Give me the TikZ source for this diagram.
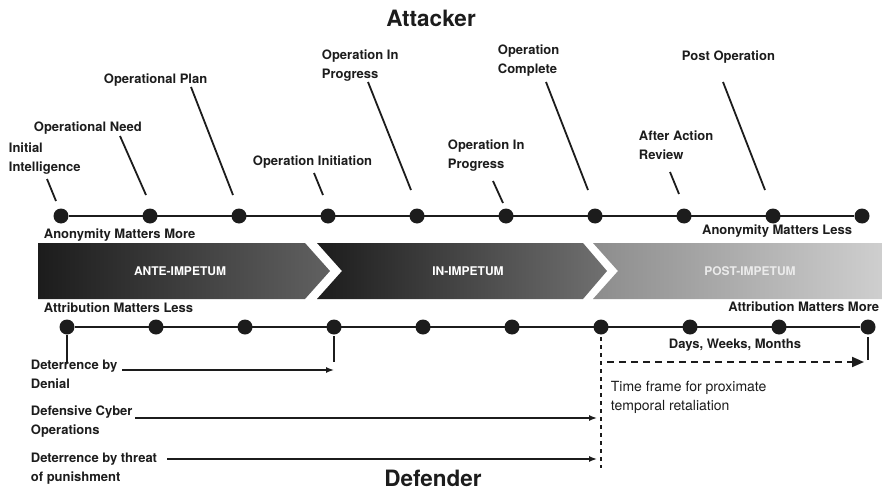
\documentclass[tikz,border=0pt]{standalone}
\usepackage{fontspec}
\setmainfont{TeX Gyre Heros}
\usetikzlibrary{arrows.meta}

\definecolor{ink}{HTML}{1C1C1C}

\tikzset{
  dot/.style={circle, fill=ink, inner sep=0pt, minimum size=15pt},
  lbl/.style={font=\bfseries\fontsize{13}{19}\selectfont, align=left, inner sep=0pt, anchor=north west},
  tag/.style={font=\bfseries\fontsize{13}{15}\selectfont, inner sep=0pt},
  title/.style={font=\bfseries\fontsize{22.5}{27}\selectfont, inner sep=0pt},
  phase/.style={font=\bfseries\fontsize{12}{14}\selectfont, inner sep=0pt},
  tip/.style={-{Latex[length=8pt,width=6pt]}, line width=1.4pt},
}

\begin{document}
\begin{tikzpicture}[x=1pt, y=-1pt, line width=1.8pt, ink]
\useasboundingbox (0,0) rectangle (882,492);

% attacker side
\node[title] (att) at (431,18) {Attacker};
\foreach \i in {1,...,10}
  \node[dot] (t\i) at ({61+89*(\i-1)},216) {};
\draw (t1) -- (t10);

\node[lbl] (ii) at (8,142) {Initial\\Intelligence};
\node[lbl] (on) at (33,121) {Operational Need};
\node[lbl] (op) at (103,73) {Operational Plan};
\node[lbl] (oi) at (252,155) {Operation Initiation};
\node[lbl] (ip1) at (321,49) {Operation In\\Progress};
\node[lbl] (ip2) at (447,139) {Operation In\\Progress};
\node[lbl] (oc) at (497,44) {Operation\\Complete};
\node[lbl] (ar) at (638,130) {After Action\\Review};
\node[lbl] (po) at (681,50) {Post Operation};

\coordinate (l1) at (47,179);  \coordinate (m1) at (56,201);
\coordinate (l2) at (120,136); \coordinate (m2) at (146,195);
\coordinate (l3) at (191,87);  \coordinate (m3) at (233,195);
\coordinate (l4) at (314,173); \coordinate (m4) at (323,195);
\coordinate (l5) at (368,82);  \coordinate (m5) at (411,190);
\coordinate (l6) at (493,181); \coordinate (m6) at (503,203);
\coordinate (l7) at (546,82);  \coordinate (m7) at (588,190);
\coordinate (l8) at (670,172); \coordinate (m8) at (679,194);
\coordinate (l9) at (723,82);  \coordinate (m9) at (765,190);
\foreach \i in {1,...,9}
  \draw (l\i) -- (m\i);

\node[tag, anchor=west] (amm) at (43,235) {Anonymity Matters More};
\node[tag, anchor=east] (aml) at (853,231) {Anonymity Matters Less};

% phases
\shade[left color=ink, right color=black!62]
  (38,243) -- (305,243) -- (330,271) -- (305,299) -- (38,299) -- cycle;
\shade[left color=ink, right color=black!56]
  (317,243) -- (583,243) -- (607,271) -- (583,299) -- (317,299) -- (342,271) -- cycle;
\shade[left color=black!45, right color=black!19]
  (593,243) -- (882,243) -- (882,299) -- (593,299) -- (618,271) -- cycle;
\node[phase, text=white] (ante) at (180,271) {ANTE-IMPETUM};
\node[phase, text=white] (in) at (468,271) {IN-IMPETUM};
\node[phase, text=black!8] (post) at (750,271) {POST-IMPETUM};

% defender side
\node[tag, anchor=west] (aml2) at (43,308) {Attribution Matters Less};
\node[tag, anchor=east] (amm2) at (880,307) {Attribution Matters More};
\foreach \i in {1,...,10}
  \node[dot] (b\i) at ({67+89*(\i-1)},327) {};
\draw (b1) -- (b10);

\draw (b1) -- ++(0,36);
\draw (b4) ++(0,9) -- ++(0,26);
\draw (b10) ++(0,10) -- ++(0,23);

\node[lbl] (dd) at (30,359) {Deterrence by\\Denial};
\node[lbl] (dc) at (30,405) {Defensive Cyber\\Operations};
\node[lbl] (dp) at (30,452) {Deterrence by threat\\of punishment};

\coordinate (ddx) at (122,370);
\coordinate (dcx) at (135,418);
\coordinate (dpx) at (167,459);
\draw[tip] (ddx) -- (ddx -| b4);
\draw[tip, shorten >=4pt] (dcx) -- (dcx -| b7);
\draw[tip, shorten >=4pt] (dpx) -- (dpx -| b7);

\draw[dash pattern=on 4pt off 4pt, line width=2.6pt] (b7) ++(0,10) -- ++(0,131);
\coordinate (tf) at (607,362);
\draw[dash pattern=on 7pt off 5pt, line width=2pt, -{Triangle[length=12pt,width=10pt]}, shorten >=4pt]
  (tf) -- (tf -| b10);
\node[tag] (dwm) at (735,345) {Days, Weeks, Months};
\node[lbl, font=\fontsize{14}{19}\selectfont] (tfr) at (610,380) {Time frame for proximate\\temporal retaliation};

\node[title] (def) at (433,478) {Defender};
\end{tikzpicture}
\end{document}
